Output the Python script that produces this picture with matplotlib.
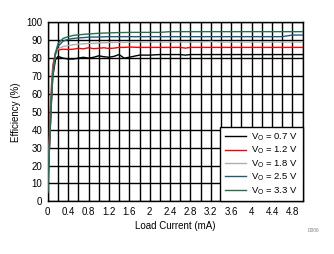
import matplotlib
matplotlib.use("Agg")
import matplotlib.pyplot as plt
from matplotlib.ticker import MultipleLocator

plt.rcParams['font.family'] = ['Liberation Sans', 'DejaVu Sans']

load_ma = [0.005, 0.01, 0.02, 0.04, 0.06, 0.08, 0.1, 0.15, 0.2, 0.3, 0.4, 0.5, 0.6, 0.7,
           0.8, 0.9, 1.0, 1.1, 1.2, 1.3, 1.4, 1.5, 1.6, 1.8, 2.0, 2.2, 2.4, 2.6, 2.7, 2.8,
           3.0, 3.2, 3.4, 3.6, 3.8, 4.0, 4.2, 4.4, 4.6, 4.8, 5.0]

eff_07 = [12, 16, 22, 35, 48, 60, 70, 79, 81, 80, 79.5, 79.5, 80, 80.5, 80, 80.5, 81.3, 80.8, 80.5,
          81, 82, 80, 80.5, 81.7, 81.7, 82, 82, 82, 81.7, 82, 82, 82, 82, 82, 82, 82, 82, 82, 82, 82, 82]
eff_12 = [18, 22, 30, 45, 58, 68, 76, 83, 84.5, 85, 84.8, 85, 85.5, 85.2, 85.8, 85.3, 85.5, 85.8, 85.4,
          85.6, 86, 86, 86.2, 86, 86, 86, 86, 86, 85.6, 86, 86, 86, 86, 86, 86, 86, 86, 86, 86, 86, 86]
eff_18 = [8, 14, 24, 38, 52, 64, 73, 82, 85, 86.5, 87, 87.5, 87.8, 88, 88.2, 88.3, 88.5, 88.6, 88.7,
          88.8, 88.8, 88.8, 88.9, 89, 89, 89, 89, 89, 89, 89, 89, 89.3, 89, 89, 89, 89, 89, 89, 89, 89, 89]
eff_25 = [6, 12, 22, 36, 50, 63, 72, 82, 86.5, 89.5, 90.5, 91, 91.3, 91.5, 91.7, 91.8, 91.8, 91.9, 92,
          92, 92, 92, 92, 92, 92, 92, 92, 92, 92, 92, 92, 92, 92, 92, 92, 92, 92, 92, 92, 92.9, 92.9]
eff_33 = [5, 10, 20, 34, 48, 62, 72, 83, 88, 91, 92, 92.7, 93, 93.3, 93.5, 93.7, 93.9, 94, 94.1,
          94.2, 94.3, 94.3, 94.4, 94.4, 94.4, 94.4, 94.8, 94.8, 94.8, 94.8, 94.8, 94.8, 94.8, 94.8,
          94.8, 94.8, 94.8, 94.8, 94.8, 94.8, 94.8]

series = [
    (eff_07, '#000000', r'V$_\mathregular{O}$ = 0.7 V'),
    (eff_12, '#ff0000', r'V$_\mathregular{O}$ = 1.2 V'),
    (eff_18, '#b0b0b0', r'V$_\mathregular{O}$ = 1.8 V'),
    (eff_25, '#1f5c7a', r'V$_\mathregular{O}$ = 2.5 V'),
    (eff_33, '#2a6e4c', r'V$_\mathregular{O}$ = 3.3 V'),
]

x_ticks = [0, 0.4, 0.8, 1.2, 1.6, 2, 2.4, 2.8, 3.2, 3.6, 4, 4.4, 4.8]
x_tick_labels = ['0', '0.4', '0.8', '1.2', '1.6', '2', '2.4', '2.8', '3.2', '3.6', '4', '4.4', '4.8']

fig = plt.figure(figsize=(3.34, 2.54), dpi=100)
ax = fig.add_axes([0.143, 0.2075, 0.763, 0.7045])

for vals, col, lab in series:
    ax.plot(load_ma, vals, color=col, lw=1.0, label=lab, zorder=3)

ax.set_xlim(0, 5)
ax.set_ylim(0, 100)
ax.set_xticks(x_ticks)
ax.set_xticklabels(x_tick_labels)
ax.xaxis.set_minor_locator(MultipleLocator(0.2))
ax.yaxis.set_major_locator(MultipleLocator(10))
ax.grid(True, which='both', axis='x', color='black', lw=1.0)
ax.grid(True, which='major', axis='y', color='black', lw=1.0)
ax.set_axisbelow(True)
ax.tick_params(which='both', length=0, labelsize=7, pad=4)
for s in ax.spines.values():
    s.set_color('black')
    s.set_linewidth(1.0)

ax.set_xlabel('Load Current (mA)', fontsize=7, labelpad=3)
ax.set_ylabel('Efficiency (%)', fontsize=7, labelpad=4)

leg = ax.legend(loc='lower right', prop={'size': 6.8}, frameon=True, fancybox=False,
                borderaxespad=0, handlelength=2.3, handletextpad=0.5,
                labelspacing=0.2, borderpad=0.5)
leg.get_frame().set_edgecolor('black')
leg.get_frame().set_linewidth(1.0)
leg.get_frame().set_alpha(1)

fig.text(0.955, 0.085, 'D006', fontsize=3.5, color='#808080', ha='right')

fig.savefig('out.png', dpi=100)
